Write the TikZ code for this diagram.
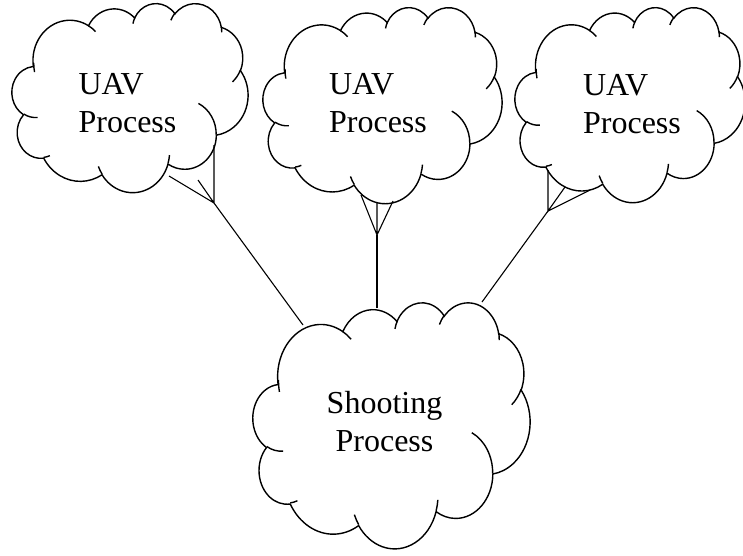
\documentclass[tikz,border=0pt]{standalone}
\usepackage{fontspec}
\setmainfont{Liberation Serif}
\newcommand\cldarc[4]{%
  \edef\cldA{\fpeval{round(atand((#1)*sind((#3)/60000),(#2)*cosd((#3)/60000)),5)}}%
  \edef\cldB{\fpeval{round(atand((#1)*sind(((#3)+(#4))/60000),(#2)*cosd(((#3)+(#4))/60000)),5)}}%
  \edef\cldB{\fpeval{((#4)>0) ? ((\cldB<\cldA) ? (\cldB+360) : \cldB) : ((\cldB>\cldA) ? (\cldB-360) : \cldB)}}%
  \edef\cldX{\fpeval{(#1)/1000}}%
  \edef\cldY{\fpeval{(#2)/1000}}%
  \pgfpatharc{\cldA}{\cldB}{\cldX pt and \cldY pt}%
}
\newcommand\cldmove[2]{\pgfpathmoveto{\pgfqpoint{\fpeval{(#1)/1000}pt}{\fpeval{(#2)/1000}pt}}}
\newcommand\pptcloud[4]{% x0 y0 W H
  \begin{scope}[shift={(#1,#2)}, xscale=#3/43.2, yscale=-#4/43.2]
    \cldmove{3900}{14370}
    \cldarc{6753}{9190}{-11429249}{7426832}
    \cldarc{5333}{7267}{-8646143}{5396714}
    \cldarc{4365}{5945}{-8748475}{5983381}
    \cldarc{4857}{6595}{-7859164}{7034504}
    \cldarc{5333}{7273}{-4722533}{6541615}
    \cldarc{6775}{9220}{-2776035}{7816140}
    \cldarc{5785}{7867}{37501}{6842000}
    \cldarc{6752}{9215}{1347096}{6910353}
    \cldarc{7720}{10543}{3974558}{4542661}
    \cldarc{4360}{5918}{-16496525}{8804134}
    \cldarc{4345}{5945}{-14809710}{9151131}
    \pgfpathclose
    \pgfsetfillcolor{white}
    \pgfusepath{fill,stroke}
    \cldmove{4693}{26177}\cldarc{4345}{5945}{5204520}{1585770}
    \cldmove{6928}{34899}\cldarc{4360}{5918}{4416628}{686848}
    \cldmove{16478}{39090}\cldarc{6752}{9215}{8257449}{844866}
    \cldmove{28827}{34751}\cldarc{6752}{9215}{387196}{959901}
    \cldmove{34129}{22954}\cldarc{5785}{7867}{-4217541}{4255042}
    \cldmove{41798}{15354}\cldarc{5333}{7273}{1819082}{1665090}
    \cldmove{38324}{5426}\cldarc{4857}{6595}{-824660}{891577}
    \cldmove{29078}{3952}\cldarc{4857}{6595}{-8950887}{1091753}
    \cldmove{22141}{4720}\cldarc{4365}{5945}{-9809656}{1061495}
    \cldmove{14000}{5192}\cldarc{6753}{9190}{-4002417}{739161}
    \cldmove{4127}{15789}\cldarc{6753}{9190}{9824591}{1062139}
    \pgfusepath{stroke}
  \end{scope}}
\tikzset{
  outline/.style={line width=1.4pt, black},
  link/.style={line width=1.1pt, black},
  lbl/.style={inner sep=0pt, font=\fontsize{32}{37.5}\selectfont}
}
\begin{document}
\begin{tikzpicture}[x=1pt, y=-1pt]
  \useasboundingbox (0,0) rectangle (743,555);
  % clouds
  \begin{scope}[outline]
    \pptcloud{12}{3}{236}{189}
    \pptcloud{263}{7}{239}{196}
    \pptcloud{515}{7}{230}{195}
    \pptcloud{253}{302}{277}{246}
  \end{scope}
  % labels
  \node[lbl, align=left] (uav1) at (127.5,103) {UAV\\Process};
  \node[lbl, align=left] (uav2) at (378,103) {UAV\\Process};
  \node[lbl, align=left] (uav3) at (632,104) {UAV\\Process};
  \node[lbl, align=center] (shoot) at (384.5,421.5) {Shooting\\Process};
  % connector attach points
  \coordinate (s1) at (303,325);
  \coordinate (s2) at (377,308);
  \coordinate (s3) at (482,302);
  \coordinate (t1) at (214,203);
  \coordinate (t2) at (377,235);
  \coordinate (t3) at (548,211);
  \coordinate (f1a) at (214,145);
  \coordinate (f1b) at (169,176);
  \coordinate (f1c) at (198,180);
  \coordinate (f2a) at (361,195);
  \coordinate (f2b) at (377,202);
  \coordinate (f2c) at (393,201);
  \coordinate (f3a) at (548,170);
  \coordinate (f3b) at (565,187);
  \coordinate (f3c) at (590,190);
  \begin{scope}[link]
    \draw (s1) -- (t1);
    \draw (f1a) -- (t1) -- (f1b) (t1) -- (f1c);
    \draw (s2) -- (t2);
    \draw (f2a) -- (t2) -- (f2c) (t2) -- (f2b);
    \draw (s3) -- (t3);
    \draw (f3a) -- (t3) -- (f3b) (t3) -- (f3c);
  \end{scope}
\end{tikzpicture}
\end{document}
